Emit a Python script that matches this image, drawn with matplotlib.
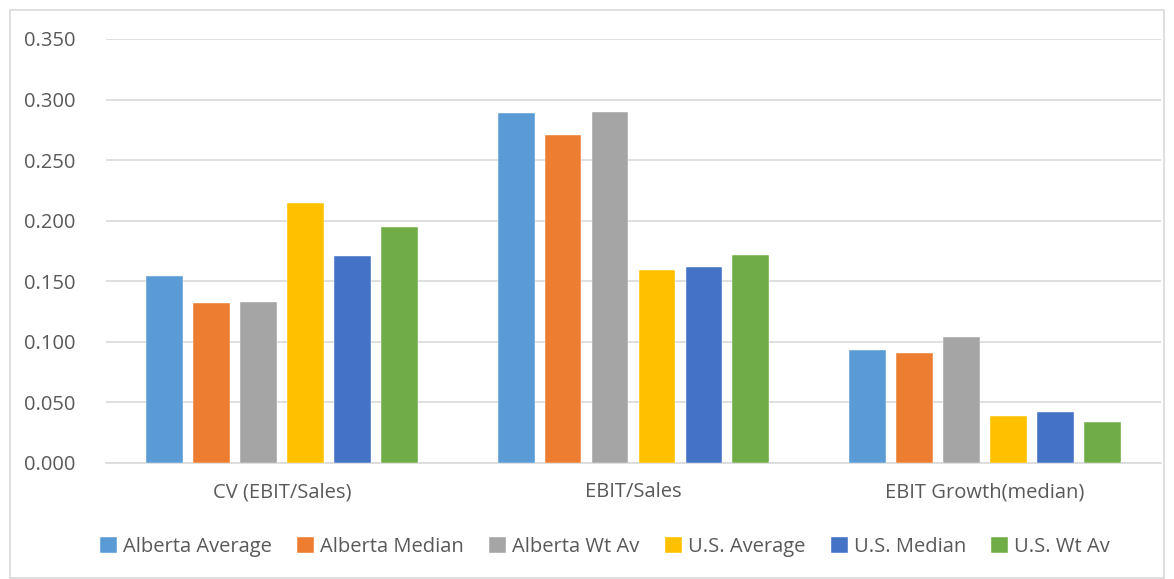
import matplotlib
matplotlib.use("Agg")
import matplotlib.pyplot as plt
import numpy as np
from matplotlib.patches import Rectangle

categories = ["CV (EBIT/Sales)", "EBIT/Sales", "EBIT Growth(median)"]
series_names = ["Alberta Average", "Alberta Median", "Alberta Wt Av",
                "U.S. Average", "U.S. Median", "U.S. Wt Av"]
alberta_average = [0.154, 0.289, 0.093]
alberta_median = [0.132, 0.271, 0.091]
alberta_wt_av = [0.133, 0.290, 0.104]
us_average = [0.215, 0.159, 0.039]
us_median = [0.171, 0.162, 0.042]
us_wt_av = [0.195, 0.172, 0.034]
y_ticks = [0.0, 0.05, 0.10, 0.15, 0.20, 0.25, 0.30, 0.35]

series_values = [alberta_average, alberta_median, alberta_wt_av,
                 us_average, us_median, us_wt_av]
colors = ["#5B9BD5", "#ED7D31", "#A5A5A5", "#FFC000", "#4472C4", "#70AD47"]

plt.rcParams["font.family"] = ["Open Sans", "DejaVu Sans"]
text_color = "#595959"
grid_color = "#D9D9D9"

fig = plt.figure(figsize=(11.74, 5.79), dpi=100)
fig.patches.append(Rectangle((10 / 1174, 1 / 579), 1154 / 1174, 568 / 579,
                             transform=fig.transFigure, fill=False,
                             edgecolor="#D9D9D9", linewidth=1.2))

ax = fig.add_axes([106 / 1174, 1 - 463 / 579, 1055 / 1174, 424 / 579])

x = np.arange(len(categories))
pitch = 0.1336
width = 0.105
for i, (name, vals, c) in enumerate(zip(series_names, series_values, colors)):
    offset = (i - 2.5) * pitch
    ax.bar(x + offset, vals, width=width, color=c, edgecolor="white",
           linewidth=0.3, label=name, zorder=3)

ax.set_xlim(-0.5, len(categories) - 0.5)
ax.set_ylim(0, 0.35)
ax.set_yticks(y_ticks)
ax.set_yticklabels([f"{v:.3f}" for v in y_ticks])
ax.set_xticks(x)
ax.set_xticklabels(categories)
ax.tick_params(axis="both", length=0, labelsize=14.5, colors=text_color)
ax.tick_params(axis="y", pad=22)
ax.tick_params(axis="x", pad=14)
ax.yaxis.grid(True, color=grid_color, linewidth=1.2, zorder=0)
for side in ["top", "right", "left"]:
    ax.spines[side].set_visible(False)
ax.spines["bottom"].set_color(grid_color)
ax.spines["bottom"].set_linewidth(1.2)

fig.legend(loc="center", bbox_to_anchor=(605 / 1174, 1 - 547 / 579), ncol=6,
           frameon=False, fontsize=14.5, handlelength=0.85, handleheight=0.85,
           handletextpad=0.3, columnspacing=1.25, labelcolor=text_color)

fig.savefig("out.png", dpi=100)
